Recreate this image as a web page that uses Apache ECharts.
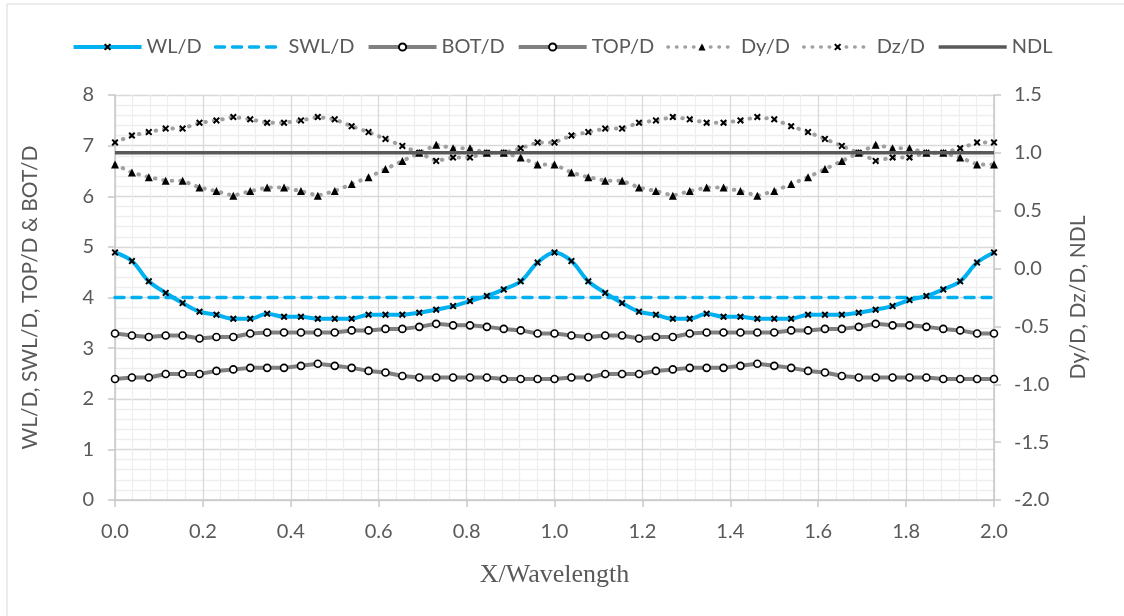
<!DOCTYPE html>
<html>
<head>
<meta charset="utf-8">
<script src="https://cdn.jsdelivr.net/npm/echarts@6/dist/echarts.min.js"></script>
<style>
  html, body { margin: 0; padding: 0; background: #ffffff; }
  #chart { width: 1124px; height: 616px; }
</style>
</head>
<body>
<div id="chart"></div>
<script>
// Sample positions along the wave (26 samples per wavelength, two wavelengths)
const xPos = [0, 0.0385, 0.0769, 0.1154, 0.1538, 0.1923, 0.2308, 0.2692, 0.3077, 0.3462,
  0.3846, 0.4231, 0.4615, 0.5, 0.5385, 0.5769, 0.6154, 0.6538, 0.6923, 0.7308,
  0.7692, 0.8077, 0.8462, 0.8846, 0.9231, 0.9615, 1.0, 1.0385, 1.0769, 1.1154,
  1.1538, 1.1923, 1.2308, 1.2692, 1.3077, 1.3462, 1.3846, 1.4231, 1.4615, 1.5,
  1.5385, 1.5769, 1.6154, 1.6538, 1.6923, 1.7308, 1.7692, 1.8077, 1.8462, 1.8846,
  1.9231, 1.9615, 2.0];

// Water level / depth
const wlD = [4.89, 4.72, 4.32, 4.09, 3.89, 3.72, 3.66, 3.58, 3.58, 3.68,
  3.62, 3.62, 3.58, 3.58, 3.58, 3.66, 3.66, 3.66, 3.70, 3.76,
  3.83, 3.93, 4.03, 4.16, 4.32, 4.69, 4.89, 4.72, 4.32, 4.09,
  3.89, 3.72, 3.66, 3.58, 3.58, 3.68, 3.62, 3.62, 3.58, 3.58,
  3.58, 3.66, 3.66, 3.66, 3.70, 3.76, 3.83, 3.95, 4.03, 4.16,
  4.32, 4.69, 4.89];

// Still water level / depth
const swlLevel = 4.0;

// Bottom of tube / depth
const botD = [3.29, 3.25, 3.22, 3.25, 3.25, 3.19, 3.22, 3.22, 3.29, 3.31,
  3.31, 3.31, 3.31, 3.31, 3.35, 3.35, 3.38, 3.38, 3.42, 3.48,
  3.45, 3.45, 3.42, 3.38, 3.35, 3.29, 3.29, 3.25, 3.22, 3.25,
  3.25, 3.19, 3.22, 3.22, 3.29, 3.31, 3.31, 3.31, 3.31, 3.31,
  3.35, 3.35, 3.38, 3.38, 3.42, 3.48, 3.45, 3.45, 3.42, 3.38,
  3.35, 3.29, 3.29];

// Top of tube / depth
const topD = [2.39, 2.42, 2.42, 2.49, 2.49, 2.49, 2.55, 2.58, 2.61, 2.61,
  2.61, 2.65, 2.69, 2.65, 2.61, 2.55, 2.52, 2.45, 2.42, 2.42,
  2.42, 2.42, 2.42, 2.39, 2.39, 2.39, 2.39, 2.42, 2.42, 2.49,
  2.49, 2.49, 2.55, 2.58, 2.61, 2.61, 2.61, 2.65, 2.69, 2.65,
  2.61, 2.55, 2.52, 2.45, 2.42, 2.42, 2.42, 2.42, 2.42, 2.39,
  2.39, 2.39, 2.39];

// Horizontal diameter ratio
const dyD = [0.90, 0.83, 0.79, 0.76, 0.76, 0.70, 0.67, 0.63, 0.67, 0.70,
  0.70, 0.67, 0.63, 0.67, 0.73, 0.79, 0.86, 0.93, 1.00, 1.07,
  1.04, 1.04, 1.00, 1.00, 0.96, 0.90, 0.90, 0.83, 0.79, 0.76,
  0.76, 0.70, 0.67, 0.63, 0.67, 0.70, 0.70, 0.67, 0.63, 0.67,
  0.73, 0.79, 0.86, 0.93, 1.00, 1.07, 1.04, 1.04, 1.00, 1.00,
  0.96, 0.90, 0.90];

// Vertical diameter ratio
const dzD = [1.09, 1.15, 1.18, 1.21, 1.21, 1.26, 1.28, 1.31, 1.29, 1.26,
  1.26, 1.28, 1.31, 1.29, 1.23, 1.18, 1.12, 1.06, 1.00, 0.93,
  0.96, 0.96, 1.00, 1.00, 1.04, 1.09, 1.09, 1.15, 1.18, 1.21,
  1.21, 1.26, 1.28, 1.31, 1.29, 1.26, 1.26, 1.28, 1.31, 1.29,
  1.23, 1.18, 1.12, 1.06, 1.00, 0.93, 0.96, 0.96, 1.00, 1.00,
  1.04, 1.09, 1.09];

// Non-deformed level
const ndlLevel = 1.0;

const xRange = [0, 2];

const pairs = ys => xPos.map((x, i) => [x, ys[i]]);
const flat = v => xRange.map(x => [x, v]);

const crossPath = 'path://M2,0L5,3L8,0L10,2L7,5L10,8L8,10L5,7L2,10L0,8L3,5L0,2Z';
const txt = '#595959';
const font = 'Lato';
const axisGray = '#c8c8c8';
const dotted = [0.5, 8];

const chart = echarts.init(document.getElementById('chart'), null, { renderer: 'canvas' });

chart.setOption({
  animation: false,
  backgroundColor: '#ffffff',
  textStyle: { fontFamily: font, color: txt },
  graphic: [{
    type: 'rect',
    shape: { x: 7, y: 4, width: 1130, height: 630 },
    style: { fill: 'none', stroke: '#d9d9d9', lineWidth: 1 },
    silent: true
  }],
  legend: {
    top: 32,
    left: 'center',
    itemWidth: 68,
    itemHeight: 9,
    itemGap: 12,
    textStyle: { fontFamily: font, fontSize: 20, color: txt },
    data: [
      { name: 'WL/D', lineStyle: { width: 4 } },
      { name: 'SWL/D', lineStyle: { width: 3.5 }, itemStyle: { opacity: 0 } },
      { name: 'BOT/D', lineStyle: { width: 4 } },
      { name: 'TOP/D', lineStyle: { width: 4 } },
      { name: 'Dy/D', lineStyle: { width: 3.5 } },
      { name: 'Dz/D', lineStyle: { width: 3.5 } },
      { name: 'NDL', lineStyle: { width: 3.5 }, itemStyle: { opacity: 0 } }
    ]
  },
  grid: { left: 115, right: 130, top: 95, bottom: 116 },
  xAxis: {
    type: 'value',
    min: 0, max: 2, interval: 0.2,
    name: 'X/Wavelength',
    nameLocation: 'middle',
    nameGap: 62,
    nameTextStyle: { fontFamily: 'Liberation Serif', fontSize: 26, color: txt },
    axisLine: { lineStyle: { color: axisGray, width: 1.5 } },
    axisTick: { show: true, length: 7, lineStyle: { color: axisGray, width: 1.5 } },
    axisLabel: { fontFamily: font, fontSize: 20, color: txt, margin: 22,
      formatter: v => v.toFixed(1) },
    splitLine: { show: true, lineStyle: { color: '#d9d9d9', width: 1.3 } },
    minorTick: { show: false, splitNumber: 5 },
    minorSplitLine: { show: true, lineStyle: { color: '#eeeeee', width: 1.3 } }
  },
  yAxis: [{
    type: 'value',
    min: 0, max: 8, interval: 1,
    name: 'WL/D, SWL/D, TOP/D & BOT/D',
    nameLocation: 'middle',
    nameRotate: 90,
    nameGap: 74,
    nameTextStyle: { fontFamily: font, fontSize: 21, color: txt },
    axisLine: { show: true, lineStyle: { color: axisGray, width: 1.5 } },
    axisTick: { show: true, length: 7, lineStyle: { color: axisGray, width: 1.5 } },
    axisLabel: { fontFamily: font, fontSize: 20, color: txt, margin: 21 },
    splitLine: { show: true, lineStyle: { color: '#d9d9d9', width: 1.3 } },
    minorTick: { show: false, splitNumber: 5 },
    minorSplitLine: { show: true, lineStyle: { color: '#eeeeee', width: 1.3 } }
  }, {
    type: 'value',
    position: 'right',
    min: -2, max: 1.5, interval: 0.5,
    name: 'Dy/D, Dz/D, NDL',
    nameLocation: 'middle',
    nameRotate: 90,
    nameGap: 74,
    nameTextStyle: { fontFamily: font, fontSize: 21, color: txt },
    axisLine: { show: true, lineStyle: { color: axisGray, width: 1.5 } },
    axisTick: { show: true, length: 7, lineStyle: { color: axisGray, width: 1.5 } },
    axisLabel: { fontFamily: font, fontSize: 20, color: txt, margin: 20,
      formatter: v => v.toFixed(1) },
    splitLine: { show: false }
  }],
  series: [{
    name: 'WL/D',
    type: 'line',
    yAxisIndex: 0,
    data: pairs(wlD),
    smooth: 0.35,
    lineStyle: { color: '#00b0f0', width: 4 },
    itemStyle: { color: '#000000' },
    symbol: crossPath,
    symbolSize: 7,
    z: 3
  }, {
    name: 'SWL/D',
    type: 'line',
    yAxisIndex: 0,
    data: flat(swlLevel),
    symbol: 'none',
    lineStyle: { color: '#00b0f0', width: 3.5, type: [9, 8], cap: 'round' },
    itemStyle: { color: '#00b0f0' },
    z: 2
  }, {
    name: 'BOT/D',
    type: 'line',
    yAxisIndex: 0,
    data: pairs(botD),
    lineStyle: { color: '#808080', width: 4 },
    symbol: 'circle',
    symbolSize: 7,
    itemStyle: { color: '#ffffff', borderColor: '#000000', borderWidth: 1.6 },
    z: 3
  }, {
    name: 'TOP/D',
    type: 'line',
    yAxisIndex: 0,
    data: pairs(topD),
    lineStyle: { color: '#808080', width: 4 },
    symbol: 'circle',
    symbolSize: 7,
    itemStyle: { color: '#ffffff', borderColor: '#000000', borderWidth: 1.6 },
    z: 3
  }, {
    name: 'Dy/D',
    type: 'line',
    yAxisIndex: 1,
    data: pairs(dyD),
    lineStyle: { color: '#a0a0a0', width: 4, type: dotted, cap: 'round' },
    symbol: 'triangle',
    symbolSize: 8,
    itemStyle: { color: '#000000' },
    z: 4
  }, {
    name: 'Dz/D',
    type: 'line',
    yAxisIndex: 1,
    data: pairs(dzD),
    lineStyle: { color: '#a0a0a0', width: 4, type: dotted, cap: 'round' },
    symbol: crossPath,
    symbolSize: 7,
    itemStyle: { color: '#000000' },
    z: 4
  }, {
    name: 'NDL',
    type: 'line',
    yAxisIndex: 1,
    data: flat(ndlLevel),
    symbol: 'none',
    lineStyle: { color: '#595959', width: 3.5 },
    itemStyle: { color: '#595959' },
    z: 5
  }]
});
</script>
</body>
</html>
